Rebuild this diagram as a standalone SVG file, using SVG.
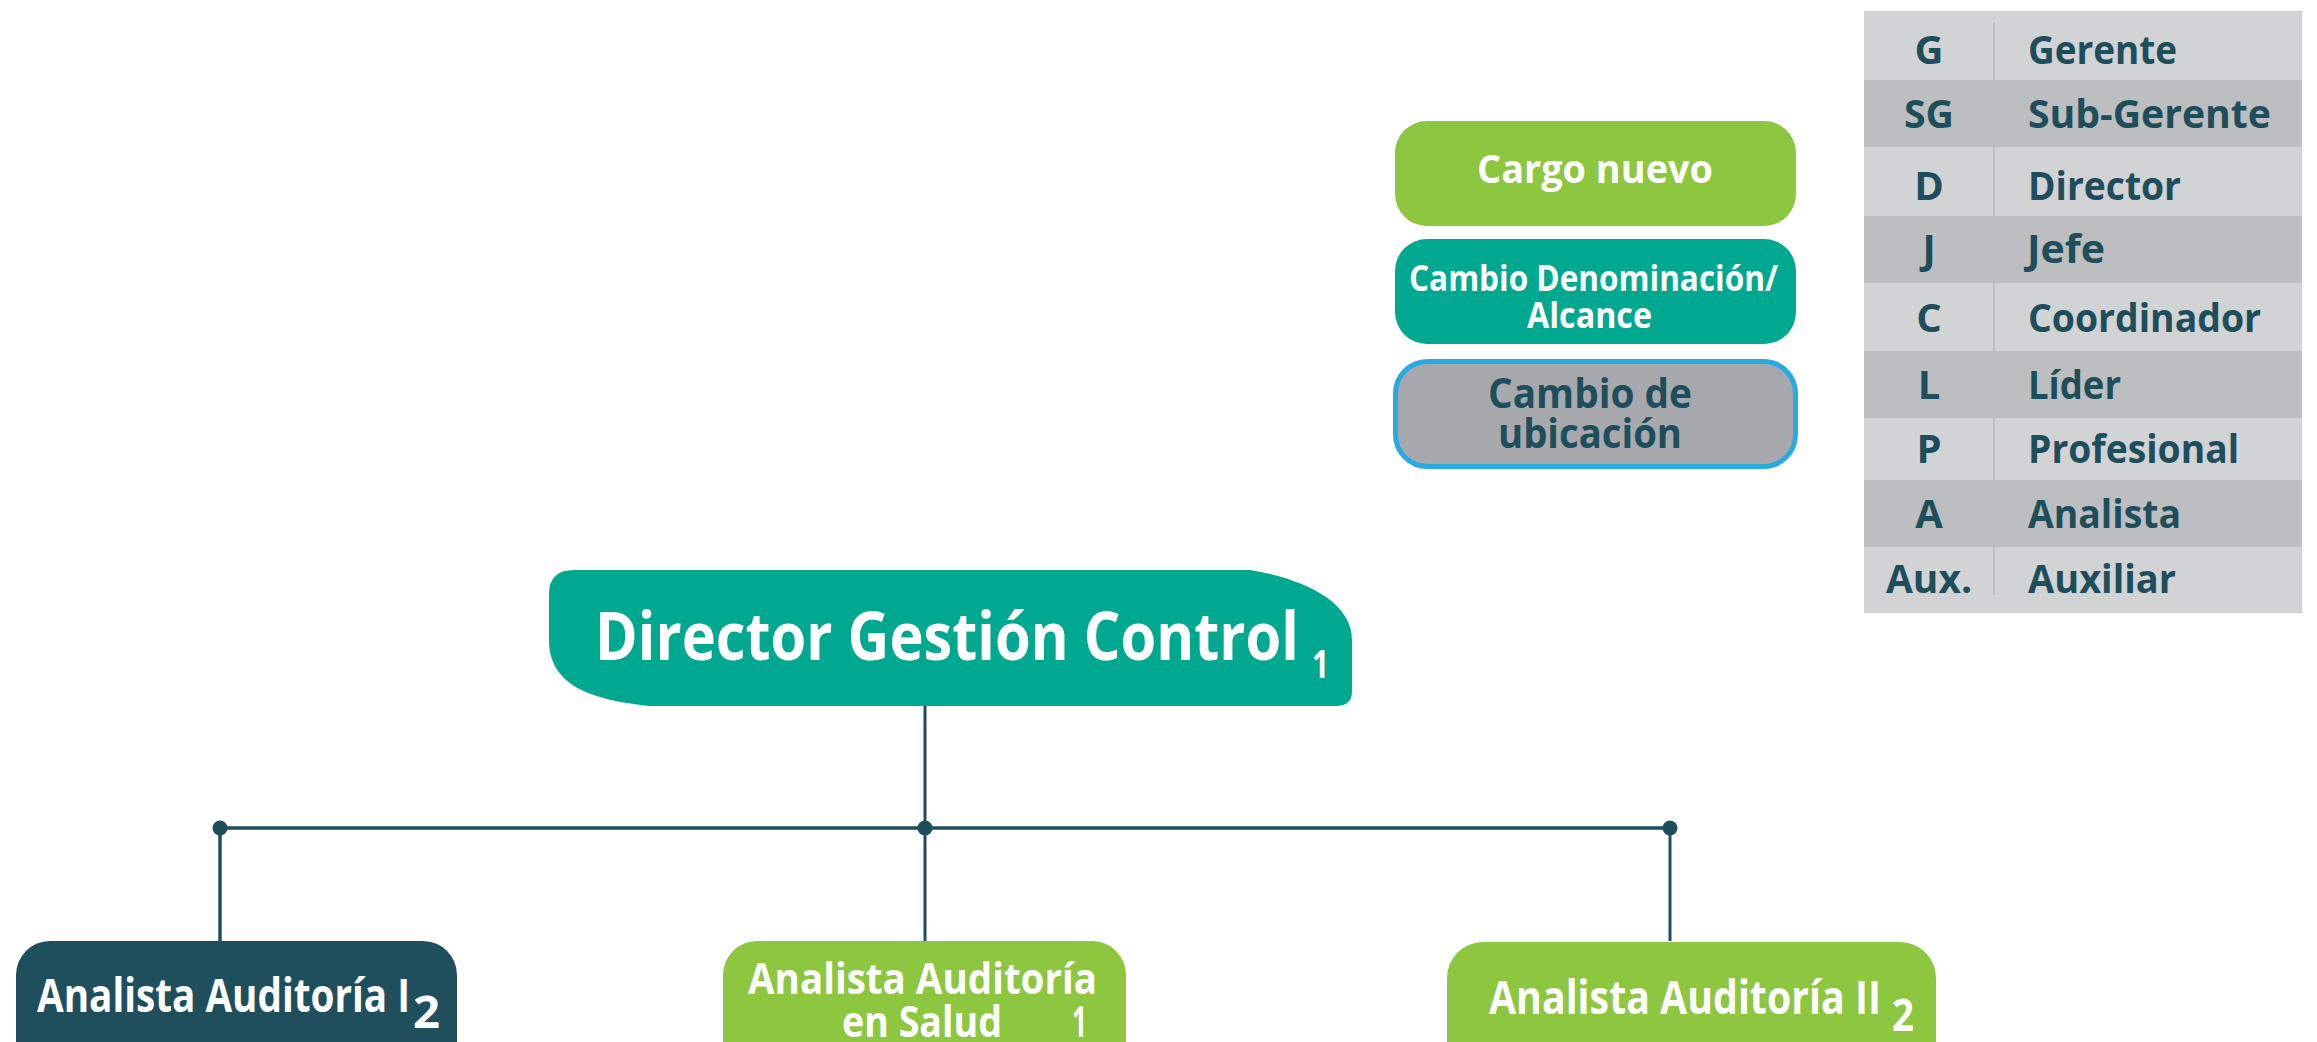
<svg xmlns="http://www.w3.org/2000/svg" width="2317" height="1042" viewBox="0 0 2317 1042">
<style>
text{font-family:"Open Sans","Noto Sans","DejaVu Sans",sans-serif;font-weight:700}
.w{fill:#ffffff}
.d{fill:#1e4d5c}
.line{stroke:#1e4d5c;fill:none}
.dot{fill:#1e4d5c}
.lt{fill:#d1d3d4}
.dk{fill:#bcbec0}
.tb{font-size:40px;fill:#1e4d5c}
.c{text-anchor:middle}
</style>
<rect width="2317" height="1042" fill="#ffffff"/>
<g id="legend-table">
<rect class="lt" x="1864" y="11" width="438" height="69"/>
<rect class="dk" x="1864" y="80" width="438" height="67"/>
<rect class="lt" x="1864" y="147" width="438" height="69"/>
<rect class="dk" x="1864" y="216" width="438" height="67"/>
<rect class="lt" x="1864" y="283" width="438" height="68"/>
<rect class="dk" x="1864" y="351" width="438" height="67"/>
<rect class="lt" x="1864" y="418" width="438" height="62"/>
<rect class="dk" x="1864" y="480" width="438" height="67"/>
<rect class="lt" x="1864" y="547" width="438" height="66"/>
<line x1="1994" y1="22" x2="1994" y2="595" stroke="#bcbec0" stroke-width="2"/>
<text class="tb c" x="1929" y="64">G</text>
<text class="tb" x="2028" y="64" textLength="149" lengthAdjust="spacingAndGlyphs">Gerente</text>
<text class="tb c" x="1929" y="128" textLength="50" lengthAdjust="spacingAndGlyphs">SG</text>
<text class="tb" x="2028" y="128" textLength="243" lengthAdjust="spacingAndGlyphs">Sub-Gerente</text>
<text class="tb c" x="1929" y="200">D</text>
<text class="tb" x="2028" y="200" textLength="153" lengthAdjust="spacingAndGlyphs">Director</text>
<text class="tb c" x="1929" y="263">J</text>
<text class="tb" x="2027" y="263" textLength="78" lengthAdjust="spacingAndGlyphs">Jefe</text>
<text class="tb c" x="1929" y="332">C</text>
<text class="tb" x="2028" y="332" textLength="233" lengthAdjust="spacingAndGlyphs">Coordinador</text>
<text class="tb c" x="1929" y="399">L</text>
<text class="tb" x="2028" y="399" textLength="93" lengthAdjust="spacingAndGlyphs">Líder</text>
<text class="tb c" x="1929" y="463">P</text>
<text class="tb" x="2028" y="463" textLength="211" lengthAdjust="spacingAndGlyphs">Profesional</text>
<text class="tb c" x="1929" y="528">A</text>
<text class="tb" x="2028" y="528" textLength="153" lengthAdjust="spacingAndGlyphs">Analista</text>
<text class="tb c" x="1929" y="593" textLength="86" lengthAdjust="spacingAndGlyphs">Aux.</text>
<text class="tb" x="2028" y="593" textLength="148" lengthAdjust="spacingAndGlyphs">Auxiliar</text>
</g>
<g id="legend-cargo-nuevo">
<rect x="1395" y="121" width="401" height="105" rx="32" fill="#8dc63f"/>
<text class="w" x="1477" y="183" font-size="40" textLength="236" lengthAdjust="spacingAndGlyphs">Cargo nuevo</text>
</g>
<g id="legend-cambio-denominacion">
<rect x="1395" y="239" width="401" height="105" rx="32" fill="#00a88f"/>
<text class="w" x="1409" y="291" font-size="36" textLength="369" lengthAdjust="spacingAndGlyphs">Cambio Denominación/</text>
<text class="w" x="1527" y="328" font-size="36" textLength="125" lengthAdjust="spacingAndGlyphs">Alcance</text>
</g>
<g id="legend-cambio-ubicacion">
<rect x="1395.5" y="361.5" width="400" height="105" rx="32" fill="#a7a9ac" stroke="#29abe2" stroke-width="5"/>
<text class="d" x="1488" y="408" font-size="42" textLength="204" lengthAdjust="spacingAndGlyphs">Cambio de</text>
<text class="d" x="1498" y="448" font-size="42" textLength="184" lengthAdjust="spacingAndGlyphs">ubicación</text>
</g>
<g id="connectors">
<line class="line" x1="925" y1="706" x2="925" y2="941" stroke-width="3"/>
<line class="line" x1="220" y1="828" x2="1670" y2="828" stroke-width="3.5"/>
<line class="line" x1="220" y1="828" x2="220" y2="941" stroke-width="3.5"/>
<line class="line" x1="1670" y1="828" x2="1670" y2="941" stroke-width="3"/>
<circle class="dot" cx="220" cy="828" r="7.5"/>
<circle class="dot" cx="925" cy="828" r="7.5"/>
<circle class="dot" cx="1670" cy="828" r="7.5"/>
</g>
<g id="director">
<path d="M574 570 H1250 C1300 578 1352 600 1352 640 V691 Q1352 706 1336 706 H650 C590 700 549 685 549 640 V594 Q549 570 574 570 Z" fill="#00a88f"/>
<text class="w" x="595" y="660" font-size="66" textLength="704" lengthAdjust="spacingAndGlyphs">Director Gestión Control</text>
<text class="w" x="1312" y="678" font-size="40" textLength="17" lengthAdjust="spacingAndGlyphs">1</text>
</g>
<g id="analista-auditoria-i">
<rect x="16" y="941" width="441" height="140" rx="34" fill="#1f4e5c"/>
<text class="w" x="37" y="1012" font-size="46" textLength="373" lengthAdjust="spacingAndGlyphs">Analista Auditoría I</text>
<text class="w" x="413" y="1028" font-size="44" textLength="27" lengthAdjust="spacingAndGlyphs">2</text>
</g>
<g id="analista-auditoria-salud">
<rect x="723" y="941" width="403" height="140" rx="34" fill="#8dc63f"/>
<text class="w" x="748" y="994" font-size="43" textLength="349" lengthAdjust="spacingAndGlyphs">Analista Auditoría</text>
<text class="w" x="842" y="1037" font-size="43" textLength="160" lengthAdjust="spacingAndGlyphs">en Salud</text>
<text class="w" x="1072" y="1037" font-size="43" textLength="15" lengthAdjust="spacingAndGlyphs">1</text>
</g>
<g id="analista-auditoria-ii">
<rect x="1447" y="942" width="489" height="140" rx="36" fill="#8dc63f"/>
<text class="w" x="1489" y="1014" font-size="46" textLength="392" lengthAdjust="spacingAndGlyphs">Analista Auditoría II</text>
<text class="w" x="1892" y="1031" font-size="44" textLength="22" lengthAdjust="spacingAndGlyphs">2</text>
</g>
</svg>
